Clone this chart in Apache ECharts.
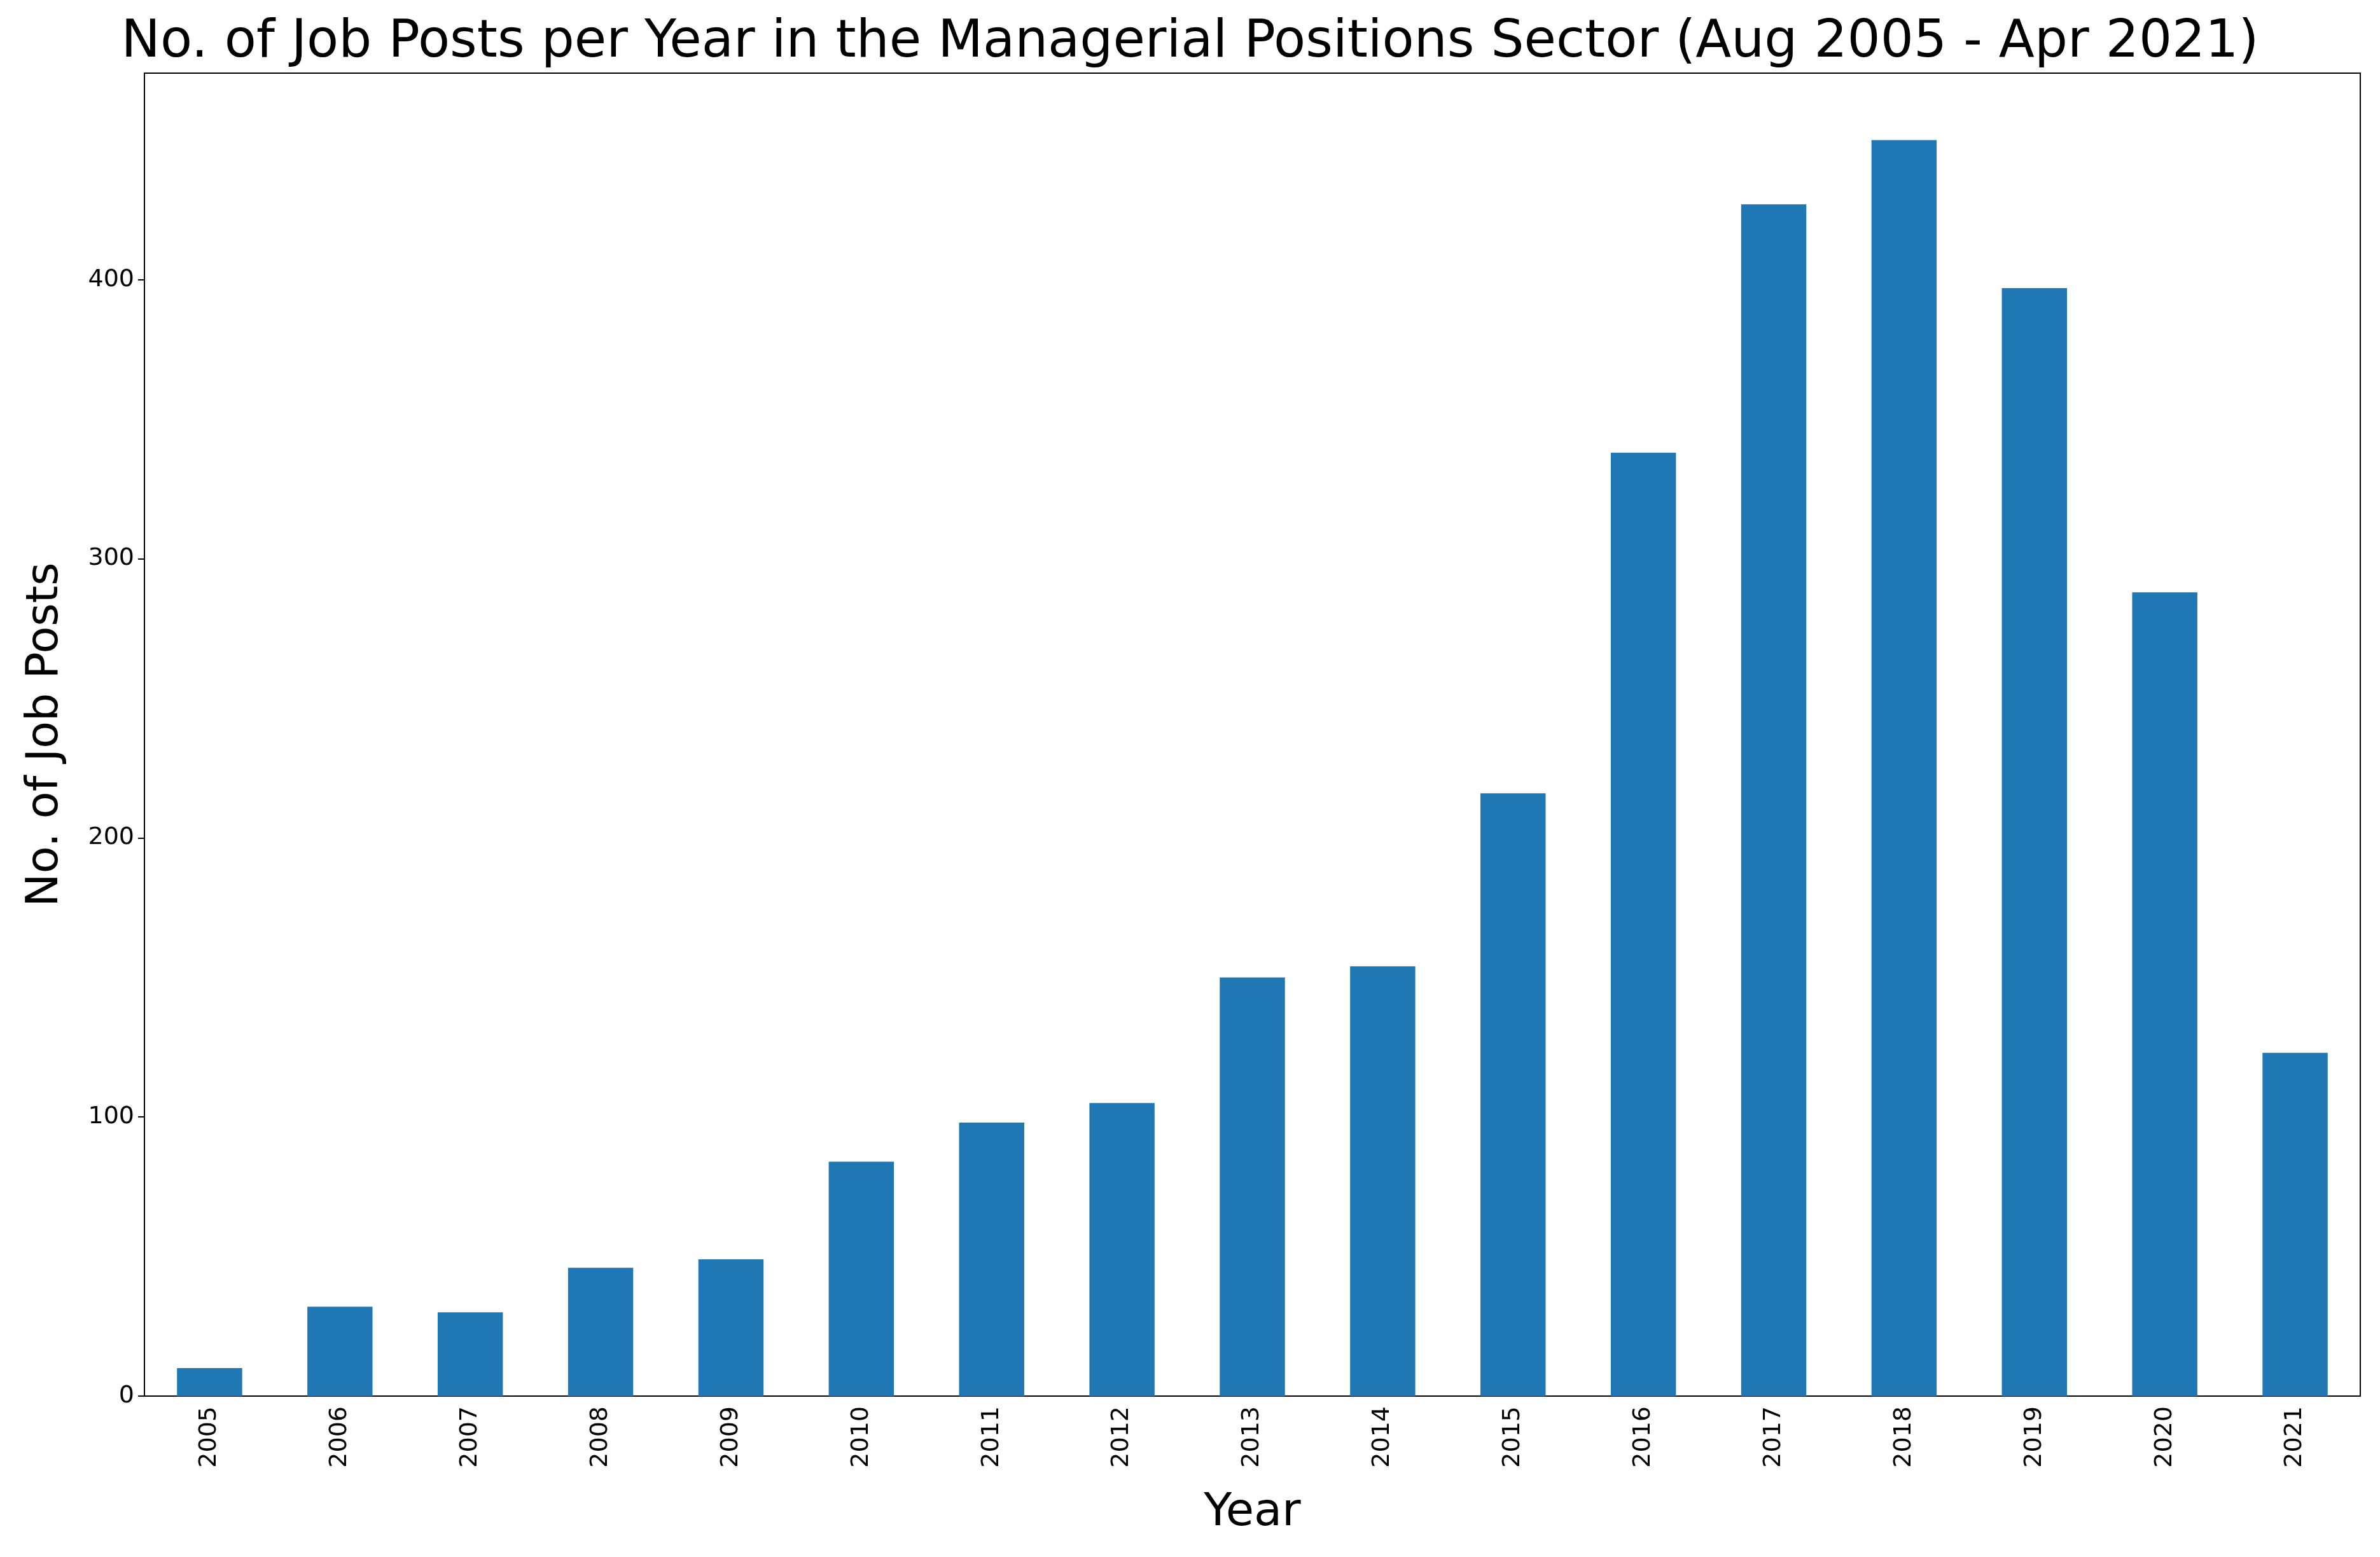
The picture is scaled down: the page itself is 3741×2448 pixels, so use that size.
<!DOCTYPE html>
<html>
<head>
<meta charset="utf-8">
<script src="https://cdn.jsdelivr.net/npm/echarts@6/dist/echarts.min.js"></script>
<style>
  html, body { margin: 0; padding: 0; background: #fff; }
  #chart { width: 3741px; height: 2448px; }
</style>
</head>
<body>
<div id="chart"></div>
<script>
// 数据
var years = ['2005', '2006', '2007', '2008', '2009', '2010', '2011', '2012', '2013',
  '2014', '2015', '2016', '2017', '2018', '2019', '2020', '2021'];
var jobPosts = [10, 32, 30, 46, 49, 84, 98, 105, 150, 154, 216, 338, 427, 450, 397, 288, 123];

var chart = echarts.init(document.getElementById('chart'));

var font = 'DejaVu Sans';
var gridLeft = 227, gridRight = 31, gridTop = 115, gridBottom = 253;

var option = {
  animation: false,
  backgroundColor: '#fff',
  title: {
    text: 'No. of Job Posts per Year in the Managerial Positions Sector (Aug 2005 - Apr 2021)',
    left: 'center',
    top: 22,
    textStyle: { fontFamily: font, fontSize: 82, fontWeight: 'normal', color: '#000' }
  },
  grid: { left: gridLeft, right: gridRight, top: gridTop, bottom: gridBottom },
  xAxis: {
    type: 'category',
    data: years,
    name: 'Year',
    nameLocation: 'middle',
    nameGap: 148,
    nameTextStyle: { fontFamily: font, fontSize: 72, color: '#000' },
    axisLine: { lineStyle: { color: '#000', width: 2 } },
    axisTick: { alignWithLabel: true, length: 10, lineStyle: { color: '#000', width: 2 } },
    axisLabel: { rotate: 90, fontFamily: font, fontSize: 38, color: '#000', margin: 16 }
  },
  yAxis: {
    type: 'value',
    min: 0,
    max: 474,
    interval: 100,
    name: 'No. of Job Posts',
    nameLocation: 'middle',
    nameGap: 120,
    nameTextStyle: { fontFamily: font, fontSize: 70, color: '#000' },
    splitLine: { show: false },
    axisLine: { show: true, lineStyle: { color: '#000', width: 2 } },
    axisTick: { show: true, length: 10, lineStyle: { color: '#000', width: 2 } },
    axisLabel: { fontFamily: font, fontSize: 38, color: '#000', margin: 16, showMaxLabel: false }
  },
  series: [{
    type: 'bar',
    data: jobPosts,
    barWidth: '50%',
    itemStyle: { color: '#1f77b4' }
  }],
  // 右侧和顶部边框
  graphic: [{
    type: 'rect',
    shape: { x: gridLeft, y: gridTop, width: 3741 - gridLeft - gridRight, height: 2448 - gridTop - gridBottom },
    style: { fill: 'none', stroke: '#000', lineWidth: 2 },
    silent: true
  }]
};

chart.setOption(option);
</script>
</body>
</html>
